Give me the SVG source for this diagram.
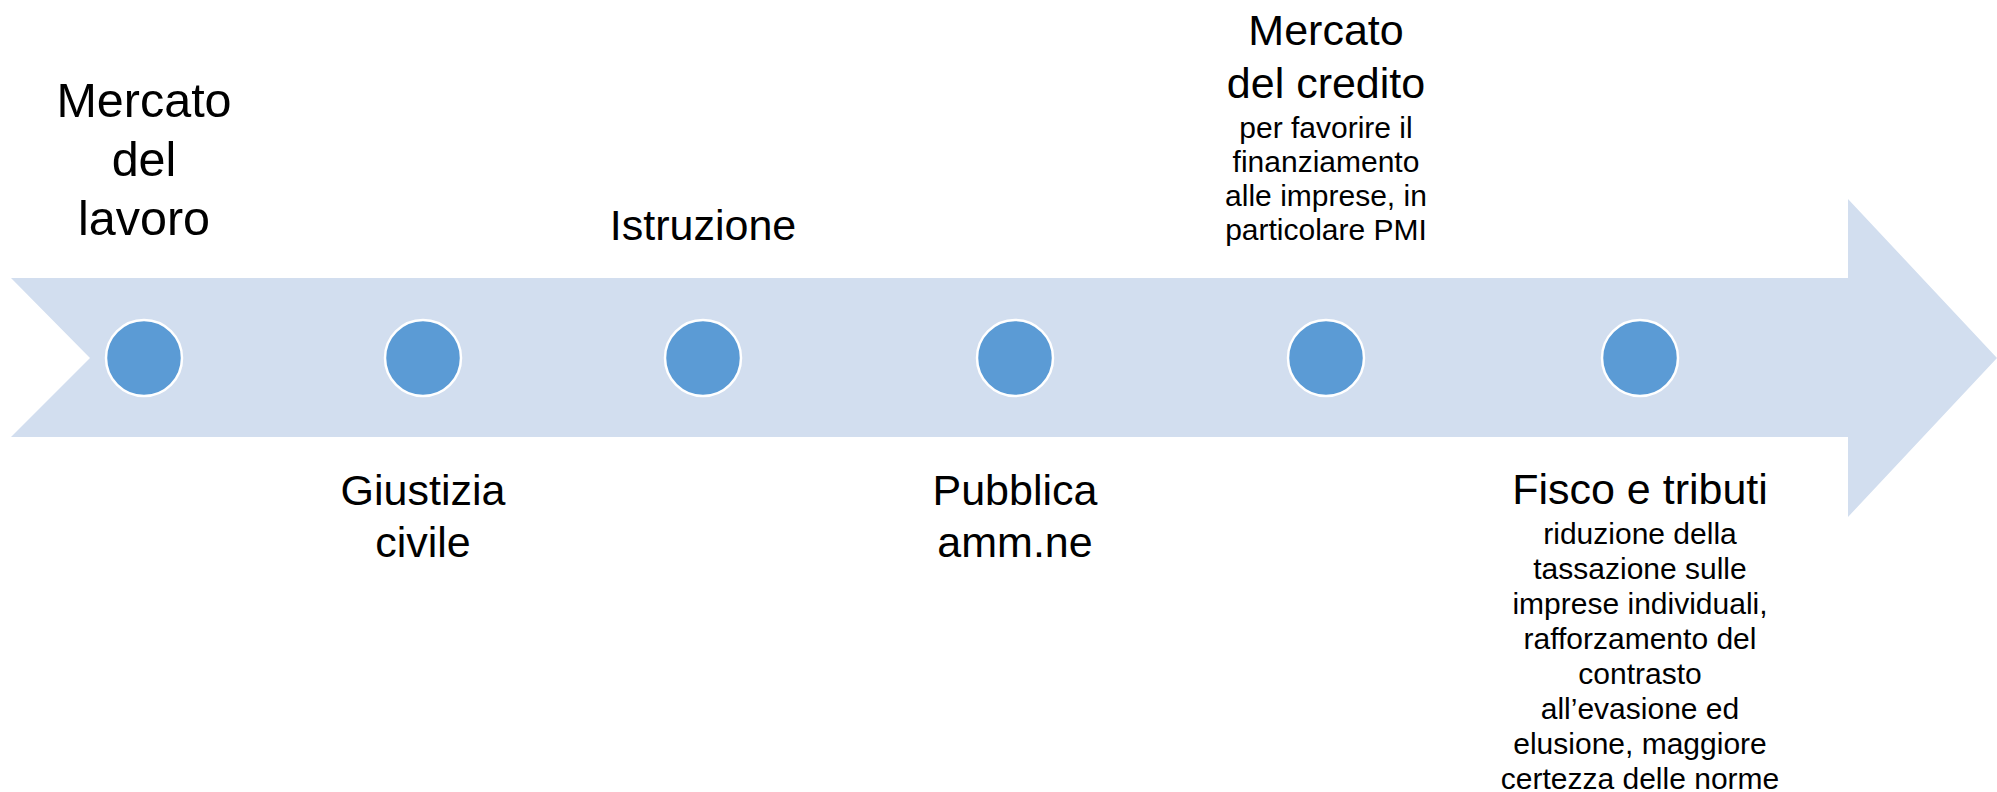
<svg xmlns="http://www.w3.org/2000/svg" width="1997" height="792" viewBox="0 0 1997 792">
  <style>
    .lbl { font-family: "Liberation Sans", Arial, sans-serif; fill: #000000; text-anchor: middle; }
    .h1 { font-size: 48.5px; }
    .h2 { font-size: 43px; }
    .sm { font-size: 30px; }
    .dot { fill: #5B9BD5; stroke: #FFFFFF; stroke-width: 2.5; }
  </style>
  <rect x="0" y="0" width="1997" height="792" fill="#FFFFFF"/>
  <g id="connectors">
    <polygon id="timeline-arrow" points="11,278 1848,278 1848,199 1997,358 1848,517 1848,437 11,437 90,358" fill="#D2DEEF"/>
  </g>
  <g id="node-lavoro">
    <circle class="dot" cx="144" cy="358" r="38"/>
    <text class="lbl h1"><tspan x="144" y="117">Mercato</tspan><tspan x="144" y="176">del</tspan><tspan x="144" y="235">lavoro</tspan></text>
  </g>
  <g id="node-giustizia">
    <circle class="dot" cx="423" cy="358" r="38"/>
    <text class="lbl h2"><tspan x="423" y="505">Giustizia</tspan><tspan x="423" y="557">civile</tspan></text>
  </g>
  <g id="node-istruzione">
    <circle class="dot" cx="703" cy="358" r="38"/>
    <text class="lbl h2" x="703" y="240">Istruzione</text>
  </g>
  <g id="node-pa">
    <circle class="dot" cx="1015" cy="358" r="38"/>
    <text class="lbl h2"><tspan x="1015" y="505">Pubblica</tspan><tspan x="1015" y="557">amm.ne</tspan></text>
  </g>
  <g id="node-credito">
    <circle class="dot" cx="1326" cy="358" r="38"/>
    <text class="lbl h2"><tspan x="1326" y="45">Mercato</tspan><tspan x="1326" y="98">del credito</tspan></text>
    <text class="lbl sm"><tspan x="1326" y="138">per favorire il</tspan><tspan x="1326" y="172">finanziamento</tspan><tspan x="1326" y="206">alle imprese, in</tspan><tspan x="1326" y="240">particolare PMI</tspan></text>
  </g>
  <g id="node-fisco">
    <circle class="dot" cx="1640" cy="358" r="38"/>
    <text class="lbl h2" x="1640" y="504">Fisco e tributi</text>
    <text class="lbl sm"><tspan x="1640" y="543.5">riduzione della</tspan><tspan x="1640" y="578.5">tassazione sulle</tspan><tspan x="1640" y="613.5">imprese individuali,</tspan><tspan x="1640" y="648.5">rafforzamento del</tspan><tspan x="1640" y="683.5">contrasto</tspan><tspan x="1640" y="718.5">all’evasione ed</tspan><tspan x="1640" y="753.5">elusione, maggiore</tspan><tspan x="1640" y="788.5">certezza delle norme</tspan></text>
  </g>
</svg>
